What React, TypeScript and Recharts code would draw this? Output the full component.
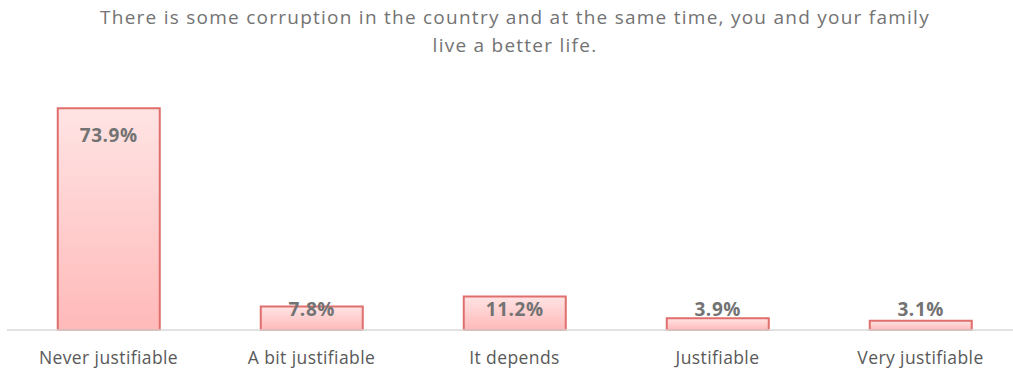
import React from 'react';
import { BarChart, Bar, XAxis, YAxis, LabelList } from 'recharts';

const categories = ['Never justifiable', 'A bit justifiable', 'It depends', 'Justifiable', 'Very justifiable'];
const shares = [73.9, 7.8, 11.2, 3.9, 3.1];

const titleLines = [
  'There is some corruption in the country and at the same time, you and your family',
  'live a better life.',
];

const data = categories.map((name, i) => ({ name, share: shares[i] }));

const FONT = '"Open Sans", "Liberation Sans", sans-serif';
const BASELINE = 330;

// value label sits inside the top of tall bars, above the axis for short ones
const ValueLabel = (props: any) => {
  const { x, y, width, value } = props;
  const cy = Math.min(y + 27, BASELINE - 21);
  return (
    <text
      x={x + width / 2}
      y={cy}
      textAnchor="middle"
      dominantBaseline="central"
      fill="#737373"
      fontSize={19}
      fontWeight={700}
      letterSpacing={0.6}
      fontFamily={FONT}
    >
      {`${value.toFixed(1)}%`}
    </text>
  );
};

const App = () => {
  return (
    <div style={{ position: 'absolute', left: 0, top: 0, width: 1013, height: 371, overflow: 'hidden', background: '#fff' }}>
      <div
        style={{
          position: 'absolute',
          left: 0,
          top: 3,
          width: 1030,
          textAlign: 'center',
          fontFamily: FONT,
          fontSize: 19,
          letterSpacing: 1.25,
          lineHeight: '28px',
          color: '#737373',
        }}
      >
        {titleLines.map((t) => (
          <div key={t}>{t}</div>
        ))}
      </div>
      <BarChart
        width={1022}
        height={371}
        data={data}
        margin={{ top: 90, right: 0, left: 7, bottom: 0 }}
        barCategoryGap="25%"
      >
        <defs>
          <linearGradient id="barFill" x1="0" y1="0" x2="0" y2="1">
            <stop offset="0%" stopColor="#ffe4e4" />
            <stop offset="100%" stopColor="#ffb9b9" />
          </linearGradient>
        </defs>
        <XAxis
          dataKey="name"
          height={41}
          axisLine={{ stroke: '#d9d9d9', strokeWidth: 1.5 }}
          tickLine={false}
          tickMargin={16}
          interval={0}
          tick={{ fill: '#595959', fontSize: 17.5, letterSpacing: 0.4, fontFamily: FONT }}
        />
        <YAxis hide domain={[0, 80]} />
        <Bar dataKey="share" fill="url(#barFill)" stroke="#df6f6d" strokeWidth={2} isAnimationActive={false}>
          <LabelList dataKey="share" content={ValueLabel} />
        </Bar>
      </BarChart>
    </div>
  );
};

export default App;
